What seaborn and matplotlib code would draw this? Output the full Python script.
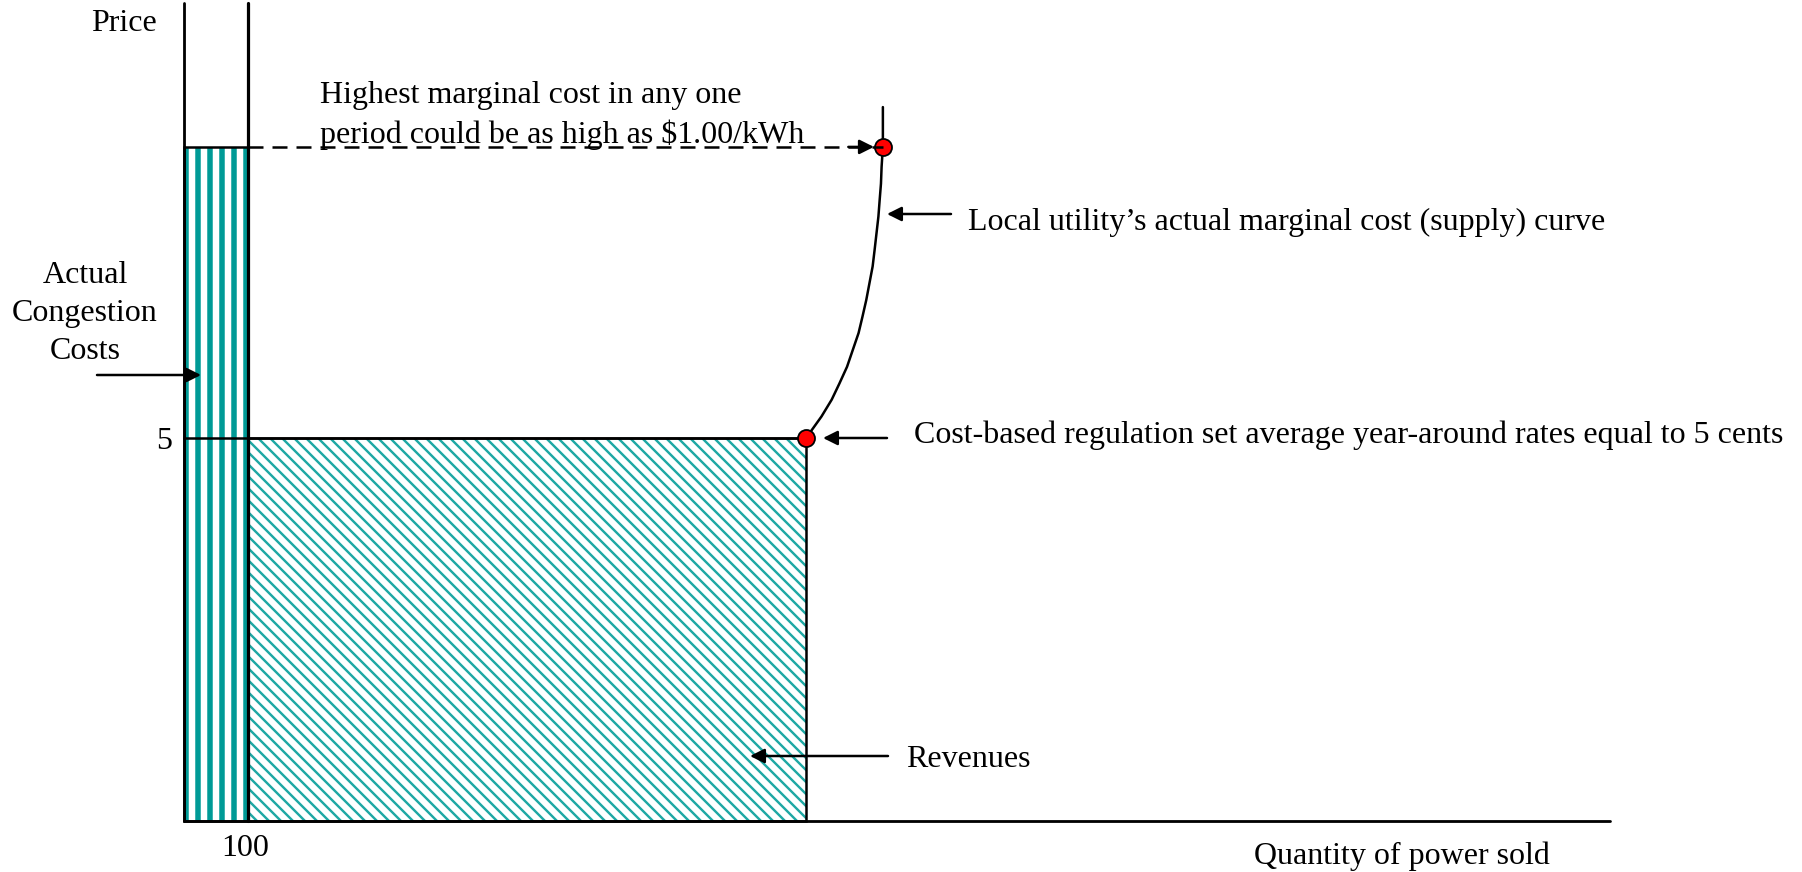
import matplotlib
matplotlib.use("Agg")
import matplotlib.pyplot as plt
from matplotlib.transforms import Affine2D
import seaborn as sns

# ---------------- data (conceptual diagram values) ----------------
congestion_qty = 100          # quantity where congestion bar ends ("100")
avg_rate = 5                  # cost-based average rate, cents
revenue_qty = 972             # quantity sold at the average rate
peak_price = 8.8              # highest marginal cost level
supply_q = [972, 996, 1012, 1024, 1036, 1045, 1054, 1060, 1066, 1071, 1076, 1079,
            1082, 1085, 1087, 1089, 1090, 1092, 1092]
supply_p = [5.0, 5.28, 5.50, 5.71, 5.93, 6.15, 6.37, 6.58, 6.80, 7.02, 7.24, 7.45,
            7.67, 7.89, 8.11, 8.32, 8.54, 8.80, 9.32]
marked_q = [972, 1092]
marked_p = [5.0, 8.8]
axis_q_max = 2228
axis_p_max = 10.68
tick_q = [100]
tick_q_labels = ["100"]
tick_p = [5]
tick_p_labels = ["5"]

# ---------------- style ----------------
sns.set_theme(style="white")
plt.rcParams['font.family'] = ['Liberation Serif', 'DejaVu Serif']
plt.rcParams['text.color'] = 'black'

TEAL = '#009a96'
TEAL_LIGHT = '#1fa8a4'
W, H, DPI = 1802, 872, 72
FS = 32
DY = 3.5
fig = plt.figure(figsize=(W / DPI, H / DPI), dpi=DPI)
fig.patch.set_facecolor('white')
ax = fig.add_axes([0, 0, 1, 1])
# layout: origin at pixel (184, 821); px per unit
x0, y0, sx, sy = 184, 821, 0.64, 76.6
ax.set_xlim(-x0 / sx, (W - x0) / sx)
ax.set_ylim(-(H - y0) / sy, y0 / sy)
ax.axis('off')

pix = Affine2D().scale(1 / W, -1 / H).translate(0, 1) + fig.transFigure

# congestion-cost bar (vertical stripes)
with plt.rc_context({'hatch.linewidth': 5.5}):
    b1 = ax.bar(0, peak_price, width=congestion_qty, align='edge', facecolor='white',
                edgecolor=TEAL, hatch='|', linewidth=0, zorder=1)
# revenue rectangle (diagonal hatch)
with plt.rc_context({'hatch.linewidth': 2.4}):
    b2 = ax.bar(congestion_qty, avg_rate, width=revenue_qty - congestion_qty, align='edge',
                facecolor='white', edgecolor=TEAL_LIGHT, hatch='\\\\', linewidth=0, zorder=1)
for p in b1.patches:
    if hasattr(p, 'set_hatch_linewidth'):
        p.set_hatch_linewidth(5.5)
for p in b2.patches:
    if hasattr(p, 'set_hatch_linewidth'):
        p.set_hatch_linewidth(2.4)

# outlines
ax.bar(0, peak_price, width=congestion_qty, align='edge', fill=False,
       edgecolor='black', linewidth=2.5, zorder=3)
ax.bar(congestion_qty, avg_rate, width=revenue_qty - congestion_qty, align='edge',
       fill=False, edgecolor='black', linewidth=2.5, zorder=3)
ax.plot([0, revenue_qty], [avg_rate, avg_rate], color='black', lw=2.5, zorder=3)

# axes lines
ax.plot([0, 0], [0, axis_p_max], color='black', lw=2.8, zorder=4)
ax.plot([congestion_qty, congestion_qty], [0, axis_p_max], color='black', lw=3.2, zorder=4)
ax.plot([0, axis_q_max], [0, 0], color='black', lw=2.8, zorder=4)

# supply curve
sns.lineplot(x=supply_q, y=supply_p, sort=False, estimator=None, color='black',
             lw=2.5, ax=ax, zorder=4)
# marked points
sns.scatterplot(x=marked_q, y=marked_p, s=17 ** 2, color='#ff0000', edgecolor='black',
                linewidth=1.8, ax=ax, zorder=5)
# dashed peak line
ax.plot([congestion_qty, marked_q[1]], [peak_price, peak_price], color='black', lw=2.5,
        ls=(0, (6, 3.6)), zorder=6)
ax.annotate('', xy=(1078, peak_price), xytext=(1038, peak_price),
            arrowprops=dict(arrowstyle='-|>', lw=2.5, color='black', mutation_scale=30,
                            shrinkA=0, shrinkB=0), zorder=6)

# tick labels
for q, lab in zip(tick_q, tick_q_labels):
    ax.text(q * sx + x0 - 3, 845 + DY, lab, transform=pix, ha='center', va='center',
            fontsize=FS, color='black')
for pr, lab in zip(tick_p, tick_p_labels):
    ax.text(164, y0 - pr * sy + DY, lab, transform=pix, ha='center', va='center',
            fontsize=FS, color='black')

def label(x, y, s, ha='left'):
    ax.text(x, y + DY, s, transform=pix, ha=ha, va='center', fontsize=FS, color='black')

label(124, 20, 'Price', 'center')
label(1402, 853, 'Quantity of power sold', 'center')
label(320, 92, 'Highest marginal cost in any one')
label(320, 131, 'period could be as high as $1.00/kWh')
label(968, 219, 'Local utility\u2019s actual marginal cost (supply) curve')
label(914, 432, 'Cost-based regulation set average year-around rates equal to 5 cents')
label(906, 756, 'Revenues')
for yy, s in zip([272, 310, 348], ['Actual', 'Congestion', 'Costs']):
    label(85, yy, s, 'center')

arrows = [((951, 214), (887, 214)), ((887, 438), (823, 438)),
          ((888, 756), (750, 756)), ((97, 375), (201, 375))]
for tail, head in arrows:
    ax.annotate('', xy=head, xycoords=pix, xytext=tail, textcoords=pix,
                arrowprops=dict(arrowstyle='-|>', lw=2.5, color='black', mutation_scale=30,
                                shrinkA=0, shrinkB=0), zorder=7)

fig.savefig('out.png', dpi=DPI, facecolor='white')
